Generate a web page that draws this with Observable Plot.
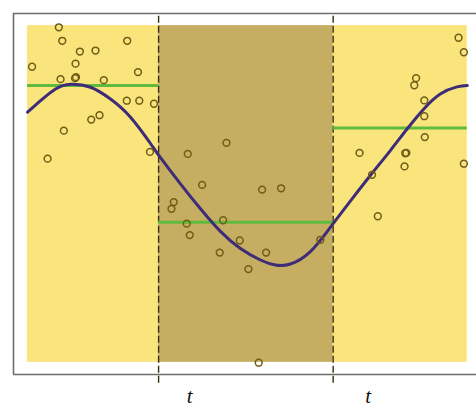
<!DOCTYPE html>
<html>
<head>
<meta charset="utf-8">
<script src="https://cdn.jsdelivr.net/npm/d3@7"></script>
<script src="https://cdn.jsdelivr.net/npm/@observablehq/plot@0.6"></script>
<style>
  html, body { margin: 0; padding: 0; background: #fff; }
</style>
</head>
<body>
<div id="chart"></div>
<script>
// Change points splitting the series into three segments
const breakpoints = [29.8, 69.5];
const breakLabels = ["t", "t"];

// Mean level of each segment (left, middle, right)
const segmentMeans = [82.2, 41.6, 69.6];

// Observed samples
const sampleX = [
  7.11, 7.89, 22.66, 11.89, 15.45, 10.91, 1.02, 25.11, 7.5, 10.8, 11.02, 17.34,
  22.57, 25.41, 28.75, 16.36, 14.48, 8.25, 27.84, 4.55,
  36.43, 45.23, 39.7, 53.34, 57.66, 33.25, 32.73, 36.2, 44.48, 36.89, 48.25,
  43.7, 54.25, 50.23, 66.59, 52.57,
  98.02, 99.23, 88.36, 87.95, 90.23, 90.23, 90.34, 75.5, 86.14, 85.9, 85.73,
  99.23, 78.34, 79.66
];
const sampleY = [
  99.5, 95.5, 95.5, 92.3, 92.6, 88.7, 87.8, 86.2, 84.1, 84.4, 84.7, 83.8,
  77.7, 77.7, 76.8, 73.4, 72.1, 68.8, 62.5, 60.5,
  61.9, 65.2, 52.7, 51.3, 51.7, 47.6, 45.6, 41.2, 42.2, 37.8, 36.2,
  32.6, 32.6, 27.7, 36.4, -0.1,
  96.4, 92.1, 84.4, 82.3, 77.8, 73.1, 66.9, 62.2, 62.2, 62.1, 58.2,
  59.0, 55.7, 43.4
];

// Underlying smooth signal
const signalX = [0, 2.95, 6.36, 9.77, 14.32, 18.86, 23.41, 27.95, 30.23, 34.77,
  39.32, 43.86, 48.41, 52.95, 56.36, 59.77, 64.32, 68.86, 73.41, 77.95, 82.5,
  86.3, 90.07, 93.86, 97.66, 100];
const signalY = [74.3, 77.7, 81.2, 82.6, 81.7, 78.2, 72.8, 65.0, 60.8, 53.0,
  45.6, 38.9, 33.8, 30.4, 28.9, 29.2, 32.9, 40.1, 47.9, 55.5, 62.9,
  69.3, 75.2, 79.7, 81.8, 82.2];

const xMin = 0, xMax = 100, yMin = 0, yMax = 100;
const edges = [xMin, ...breakpoints, xMax];

const samples = sampleX.map((x, i) => ({x, y: sampleY[i]}));
const signal = signalX.map((x, i) => ({x, y: signalY[i]}));
const segments = segmentMeans.map((m, i) => ({x1: edges[i], x2: edges[i + 1], y: m, inner: i === 1}));
const bands = segments.map(s => ({x1: s.x1, x2: s.x2, y1: yMin, y2: yMax, inner: s.inner}));

const frameLeft = -3.2, frameRight = 102.1, frameTop = 103.6, frameBottom = -3.6;
const labelFont = {fontSize: 21, fontStyle: "italic", fontFamily: "Liberation Serif, DejaVu Serif, serif", fill: "#111"};

const chart = Plot.plot({
  width: 476,
  height: 408,
  marginLeft: 13,
  marginRight: 0,
  marginTop: 13,
  marginBottom: 34,
  x: {domain: [frameLeft, frameRight], axis: null},
  y: {domain: [frameBottom, frameTop], axis: null},
  style: {background: "#fff", overflow: "visible"},
  marks: [
    // shaded segments
    Plot.rect(bands, {x1: "x1", x2: "x2", y1: "y1", y2: "y2",
      fill: d => d.inner ? "#c5ae62" : "#fae47c"}),
    // outer frame (open on the right)
    Plot.ruleY([frameTop, frameBottom], {x1: frameLeft, x2: frameRight, stroke: "#6e6e6e", strokeWidth: 1.6}),
    Plot.ruleX([frameLeft], {y1: frameBottom, y2: frameTop, stroke: "#6e6e6e", strokeWidth: 1.6}),
    // change points
    Plot.ruleX(breakpoints, {y1: -6.2, y2: frameTop, stroke: "#3a2f12", strokeWidth: 1.4, strokeDasharray: "7,3"}),
    // segment means
    Plot.ruleY(segments, {x1: "x1", x2: "x2", y: "y", stroke: "#5fbb3d", strokeWidth: 3}),
    // smooth signal
    Plot.line(signal, {x: "x", y: "y", curve: "natural", stroke: "#3e2c78", strokeWidth: 3}),
    // samples
    Plot.dot(samples, {x: "x", y: "y", r: 3.4, stroke: "#6f5c16", strokeWidth: 1.5, fill: "none"}),
    // change point labels
    Plot.text([breakpoints[0]], {x: d => d, y: -10.2, text: () => breakLabels[0], dx: 31, ...labelFont}),
    Plot.text([breakpoints[1]], {x: d => d, y: -10.2, text: () => breakLabels[1], dx: 35, ...labelFont})
  ]
});
document.getElementById("chart").appendChild(chart);
</script>
</body>
</html>
